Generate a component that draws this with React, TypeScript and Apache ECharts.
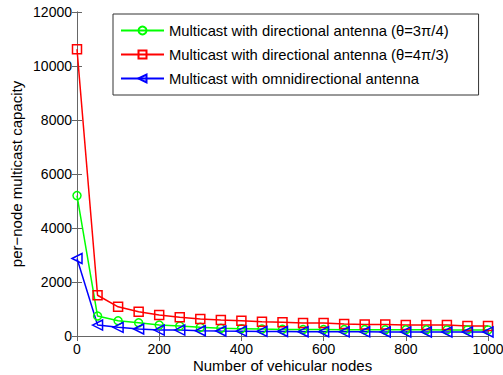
import React, { useEffect, useRef } from "react";
import * as echarts from "echarts";

const nodes = [0, 50, 100, 150, 200, 250, 300, 350, 400, 450, 500, 550, 600, 650, 700, 750, 800, 850, 900, 950, 1000];
const dir34 = [5200, 740, 565, 490, 405, 370, 320, 285, 270, 255, 245, 240, 240, 235, 235, 230, 230, 230, 225, 225, 225];
const dir43 = [10620, 1510, 1080, 895, 775, 690, 630, 590, 565, 530, 505, 480, 480, 445, 430, 430, 405, 405, 405, 370, 370];
const omni = [2870, 405, 320, 260, 220, 220, 195, 185, 180, 170, 165, 160, 160, 155, 155, 150, 150, 150, 150, 150, 150];
const seriesNames = [
  "Multicast with directional antenna (θ=3π/4)",
  "Multicast with directional antenna (θ=4π/3)",
  "Multicast with omnidirectional antenna",
];

const font = "Liberation Sans, Arial, sans-serif";
const axisColor = "#666";

export default function App() {
  const ref = useRef<HTMLDivElement>(null);
  useEffect(() => {
    if (!ref.current) return;
    const chart = echarts.init(ref.current, undefined, { renderer: "svg" });
    const mk = (name: string, data: number[], color: string, symbol: string, size: number, rotate = 0) => ({
      name,
      type: "line",
      data: nodes.map((x, i) => [x, data[i]]),
      symbol,
      symbolSize: size,
      symbolRotate: rotate,
      showAllSymbol: true,
      lineStyle: { color, width: 1.5 },
      itemStyle: { color: "rgba(255,255,255,0)", borderColor: color, borderWidth: 1.5 },
    });
    const fmt = (v: number) => String(v);
    chart.setOption({
      animation: false,
      textStyle: { fontFamily: font },
      grid: { left: 77, right: 15, top: 12, bottom: 39, show: false, containLabel: false, outerBoundsMode: "none" },
      legend: {
        orient: "vertical",
        left: 113,
        top: 14,
        backgroundColor: "#fff",
        borderColor: "#333",
        borderWidth: 1,
        padding: [9, 30, 9, 7],
        itemGap: 9,
        itemWidth: 43,
        itemHeight: 10,
        textStyle: { fontSize: 14.8, color: "#000", fontFamily: font },
        data: seriesNames,
      },
      xAxis: [
        {
          type: "value", min: 0, max: 1000, interval: 200,
          name: "Number of vehicular nodes", nameLocation: "middle", nameGap: 22, nameMoveOverlap: false,
          nameTextStyle: { fontSize: 15, color: "#000", fontFamily: font },
          axisLine: { lineStyle: { color: axisColor } },
          axisTick: { inside: true, length: 5, lineStyle: { color: axisColor } },
          axisLabel: { fontSize: 14, color: "#000", margin: 6, fontFamily: font, formatter: fmt },
          splitLine: { show: false },
        },
        {
          type: "value", position: "top", min: 0, max: 1000, interval: 200,
          axisLine: { lineStyle: { color: axisColor } },
          axisTick: { inside: true, length: 5, lineStyle: { color: axisColor } },
          axisLabel: { show: false },
          splitLine: { show: false },
        },
      ],
      yAxis: [
        {
          type: "value", min: 0, max: 12000, interval: 2000,
          name: "per−node multicast capacity", nameLocation: "middle", nameGap: 53, nameMoveOverlap: false,
          nameTextStyle: { fontSize: 15, color: "#000", fontFamily: font },
          axisLine: { show: true, lineStyle: { color: axisColor } },
          axisTick: { show: true, inside: true, length: 5, lineStyle: { color: axisColor } },
          axisLabel: { fontSize: 14, color: "#000", margin: 5, fontFamily: font, formatter: fmt },
          splitLine: { show: false },
        },
        {
          type: "value", position: "right", min: 0, max: 12000, interval: 2000,
          axisLine: { show: true, lineStyle: { color: axisColor } },
          axisTick: { show: true, inside: true, length: 5, lineStyle: { color: axisColor } },
          axisLabel: { show: false },
          splitLine: { show: false },
        },
      ],
      series: [
        mk(seriesNames[0], dir34, "#00ff00", "circle", 8),
        mk(seriesNames[1], dir43, "#ff0000", "rect", 9),
        mk(seriesNames[2], omni, "#0000ff", "triangle", 10, 90),
      ],
    });
    return () => chart.dispose();
  }, []);
  return <div ref={ref} style={{ width: 503, height: 375, position: "absolute", left: 0, top: 0, background: "#fff" }} />;
}
